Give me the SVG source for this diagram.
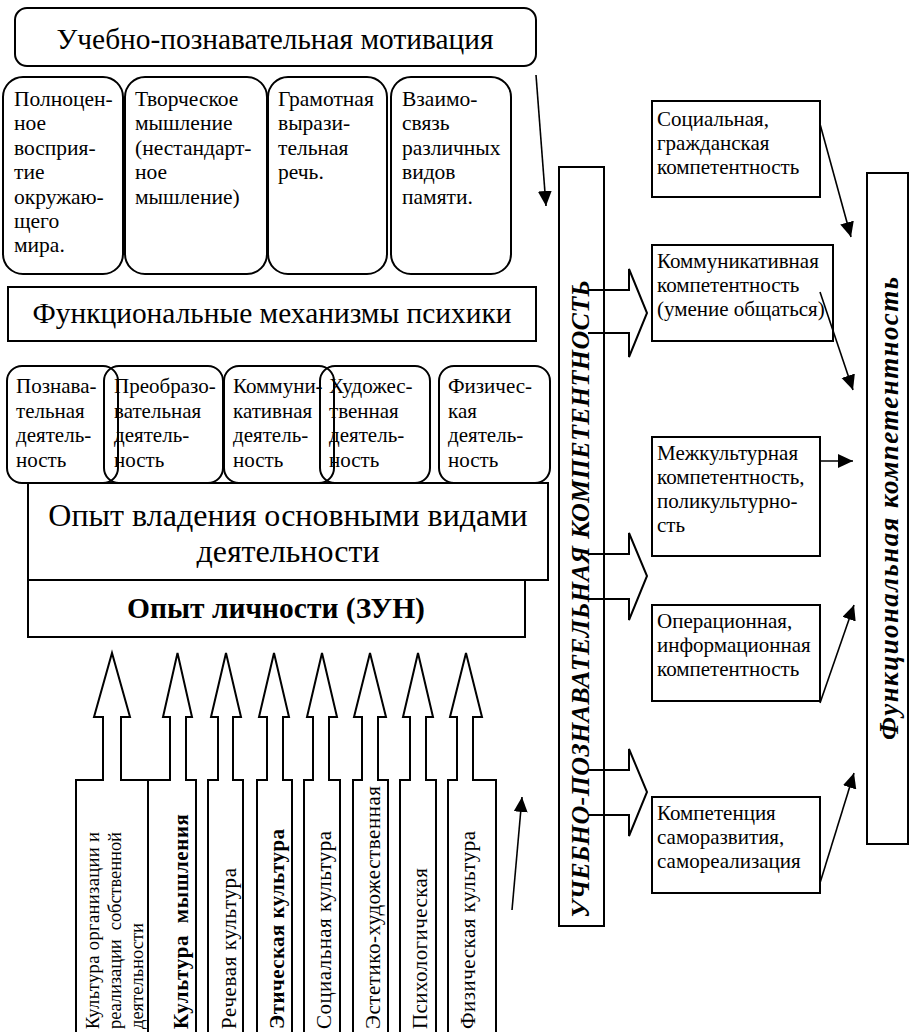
<svg xmlns="http://www.w3.org/2000/svg" width="911" height="1032" viewBox="0 0 911 1032">
<style>
.bx{fill:none;stroke:#000;stroke-width:2}
.ln{fill:none;stroke:#000;stroke-width:1.6}
.t{font-size:21px;fill:#000}
.t2{font-size:21.5px;fill:#000}
.big{font-size:29.4px;fill:#000;text-anchor:middle}
.rot{font-size:21px;fill:#000;white-space:pre}
.b{font-weight:bold}
.bi{font-weight:bold;font-style:italic;fill:#000}
</style>
<defs>
<marker id="ah" markerUnits="userSpaceOnUse" markerWidth="16" markerHeight="16" refX="15" refY="7" orient="auto">
<path d="M0,0 L15,7 L0,14 z" fill="#000"/>
</marker>
</defs>
<rect width="911" height="1032" fill="#fff"/>
<g font-family="Liberation Serif, Times New Roman, serif">

<g id="motivation">
<rect class="bx" x="15" y="8" width="521" height="58" rx="12"/>
<text class="big" x="275" y="49">Учебно-познавательная мотивация</text>
</g>

<g id="perception">
<rect class="bx" x="3" y="77" width="120" height="197" rx="20"/>
<text class="t2"><tspan x="14" y="106">Полноцен-</tspan><tspan x="14" dy="24.4">ное</tspan><tspan x="14" dy="24.4">восприя-</tspan><tspan x="14" dy="24.4">тие</tspan><tspan x="14" dy="24.4">окружаю-</tspan><tspan x="14" dy="24.4">щего</tspan><tspan x="14" dy="24.4">мира.</tspan></text>
</g>
<g id="thinking">
<rect class="bx" x="125" y="77" width="142" height="197" rx="20"/>
<text class="t2"><tspan x="135" y="106">Творческое</tspan><tspan x="135" dy="24.4">мышление</tspan><tspan x="135" dy="24.4">(нестандарт-</tspan><tspan x="135" dy="24.4">ное</tspan><tspan x="135" dy="24.4">мышление)</tspan></text>
</g>
<g id="speech">
<rect class="bx" x="268" y="77" width="119" height="197" rx="20"/>
<text class="t2"><tspan x="278" y="106">Грамотная</tspan><tspan x="278" dy="24.4">вырази-</tspan><tspan x="278" dy="24.4">тельная</tspan><tspan x="278" dy="24.4">речь.</tspan></text>
</g>
<g id="memory">
<rect class="bx" x="391" y="77" width="120" height="197" rx="20"/>
<text class="t2"><tspan x="402" y="106">Взаимо-</tspan><tspan x="402" dy="24.4">связь</tspan><tspan x="402" dy="24.4">различных</tspan><tspan x="402" dy="24.4">видов</tspan><tspan x="402" dy="24.4">памяти.</tspan></text>
</g>

<g id="mechanisms">
<rect class="bx" x="8" y="287" width="528" height="54"/>
<text class="big" x="272" y="323">Функциональные механизмы психики</text>
</g>

<g id="act-cognitive">
<rect class="bx" x="7" y="366" width="111" height="117" rx="15"/>
<text class="t"><tspan x="16" y="393">Познава-</tspan><tspan x="16" dy="24.5">тельная</tspan><tspan x="16" dy="24.5">деятель-</tspan><tspan x="16" dy="24.5">ность</tspan></text>
</g>
<g id="act-transform">
<rect class="bx" x="104" y="366" width="119" height="117" rx="15"/>
<text class="t"><tspan x="114" y="393">Преобразо-</tspan><tspan x="114" dy="24.5">вательная</tspan><tspan x="114" dy="24.5">деятель-</tspan><tspan x="114" dy="24.5">ность</tspan></text>
</g>
<g id="act-communicative">
<rect class="bx" x="224" y="366" width="110" height="117" rx="15"/>
<text class="t"><tspan x="233" y="393">Коммуни-</tspan><tspan x="233" dy="24.5">кативная</tspan><tspan x="233" dy="24.5">деятель-</tspan><tspan x="233" dy="24.5">ность</tspan></text>
</g>
<g id="act-art">
<rect class="bx" x="320" y="366" width="110" height="117" rx="15"/>
<text class="t"><tspan x="329" y="393">Художес-</tspan><tspan x="329" dy="24.5">твенная</tspan><tspan x="329" dy="24.5">деятель-</tspan><tspan x="329" dy="24.5">ность</tspan></text>
</g>
<g id="act-physical">
<rect class="bx" x="439" y="366" width="111" height="117" rx="15"/>
<text class="t"><tspan x="448" y="393">Физичес-</tspan><tspan x="448" dy="24.5">кая</tspan><tspan x="448" dy="24.5">деятель-</tspan><tspan x="448" dy="24.5">ность</tspan></text>
</g>

<g id="experience-activities">
<rect class="bx" x="28" y="483" width="520" height="97"/>
<text class="big" style="font-size:32px"><tspan x="288" y="526">Опыт владения основными видами</tspan><tspan x="288" y="562">деятельности</tspan></text>
</g>
<g id="experience-personal">
<rect class="bx" x="28" y="580" width="497" height="57"/>
<text class="big b" style="font-size:29.5px" x="276" y="618">Опыт личности (ЗУН)</text>
</g>

<g id="culture-organization">
<path class="bx" d="M76,1040 V780 H103 V717 H94 L112,653 L130,717 H121 V780 H148 V1040"/>
<text class="rot" style="font-size:18.5px" transform="translate(99,1029) rotate(-90)" textLength="197">Культура организации и</text>
<text class="rot" style="font-size:18.5px" transform="translate(121,1029) rotate(-90)" textLength="197">реализации  собственной</text>
<text class="rot" style="font-size:18.5px" transform="translate(143,1029) rotate(-90)">деятельности</text>
</g>
<g id="culture-thinking">
<path class="bx" d="M148,1040 V780 H170 V717 H163 L177.5,653 L192,717 H186 V780 H196 V1040"/>
<text class="rot b" transform="translate(188,1029) rotate(-90)" textLength="215">Культура  мышления</text>
</g>
<g id="culture-speech">
<path class="bx" d="M208,1040 V780 H218 V717 H211 L226,653 L241,717 H233 V780 H243 V1040"/>
<text class="rot" transform="translate(236,1029) rotate(-90)" textLength="161">Речевая культура</text>
</g>
<g id="culture-ethics">
<path class="bx" d="M257,1040 V780 H267 V717 H259 L274,653 L289,717 H283 V780 H292 V1040"/>
<text class="rot b" transform="translate(284,1029) rotate(-90)" textLength="200">Этическая культура</text>
</g>
<g id="culture-social">
<path class="bx" d="M304,1040 V780 H313 V717 H307 L322,653 L337,717 H329 V780 H340 V1040"/>
<text class="rot" transform="translate(331,1029) rotate(-90)" textLength="198">Социальная культура</text>
</g>
<g id="culture-aesthetic">
<path class="bx" d="M353,1040 V780 H362 V717 H354 L370,653 L386,717 H378 V780 H388 V1040"/>
<text class="rot" transform="translate(380,1029) rotate(-90)" textLength="243">Эстетико-художественная</text>
</g>
<g id="culture-psychological">
<path class="bx" d="M400,1040 V780 H410 V717 H403 L418,653 L433,717 H426 V780 H436 V1040"/>
<text class="rot" transform="translate(427,1029) rotate(-90)" textLength="161">Психологическая</text>
</g>
<g id="culture-physical">
<path class="bx" d="M448,1040 V780 H457 V717 H450 L466,653 L482,717 H473 V780 H496 V1040"/>
<text class="rot" transform="translate(475,1029) rotate(-90)" textLength="198">Физическая культура</text>
</g>

<g id="learning-competence">
<rect class="bx" x="559" y="167" width="45" height="759"/>
<text class="bi" style="font-size:26px" transform="translate(589,918) rotate(-90)" textLength="638">УЧЕБНО-ПОЗНАВАТЕЛЬНАЯ КОМПЕТЕНТНОСТЬ</text>
</g>

<g id="social">
<rect class="bx" x="652" y="101" width="168" height="96"/>
<text class="t"><tspan x="657" y="126">Социальная,</tspan><tspan x="657" dy="24">гражданская</tspan><tspan x="657" dy="24">компетентность</tspan></text>
</g>
<g id="communicative">
<rect class="bx" x="652" y="245" width="181" height="96"/>
<text class="t"><tspan x="657" y="268">Коммуникативная</tspan><tspan x="657" dy="24">компетентность</tspan><tspan x="657" dy="24">(умение общаться)</tspan></text>
</g>
<g id="intercultural">
<rect class="bx" x="652" y="437" width="168" height="119"/>
<text class="t"><tspan x="657" y="460">Межкультурная</tspan><tspan x="657" dy="24">компетентность,</tspan><tspan x="657" dy="24">поликультурно-</tspan><tspan x="657" dy="24">сть</tspan></text>
</g>
<g id="operational">
<rect class="bx" x="652" y="605" width="168" height="96"/>
<text class="t"><tspan x="657" y="628">Операционная,</tspan><tspan x="657" dy="24">информационная</tspan><tspan x="657" dy="24">компетентность</tspan></text>
</g>
<g id="selfdev">
<rect class="bx" x="652" y="797" width="168" height="96"/>
<text class="t"><tspan x="657" y="820">Компетенция</tspan><tspan x="657" dy="24">саморазвития,</tspan><tspan x="657" dy="24">самореализация</tspan></text>
</g>

<g id="functional-competence">
<rect class="bx" x="867" y="173" width="41" height="671"/>
<text class="bi" style="font-size:27px" transform="translate(898,740) rotate(-90)" textLength="463">Функциональная компетентность</text>
</g>
</g>

<g id="connectors">
<line class="ln" x1="536" y1="75" x2="546" y2="206" marker-end="url(#ah)"/>
<line class="ln" x1="512" y1="910" x2="522" y2="797" marker-end="url(#ah)"/>
<path class="bx" d="M588,290 H629 V269 L647,313 L629,357 V333 H588"/>
<path class="bx" d="M588,554 H629 V533 L647,576 L629,620 V599 H588"/>
<path class="bx" d="M588,770 H629 V749 L647,792 L629,836 V815 H588"/>
<line class="ln" x1="820" y1="124" x2="851" y2="237" marker-end="url(#ah)"/>
<line class="ln" x1="820" y1="292" x2="853" y2="390" marker-end="url(#ah)"/>
<line class="ln" x1="820" y1="461" x2="853" y2="461" marker-end="url(#ah)"/>
<line class="ln" x1="820" y1="703" x2="854" y2="605" marker-end="url(#ah)"/>
<line class="ln" x1="820" y1="883" x2="854" y2="773" marker-end="url(#ah)"/>
</g>
</svg>
